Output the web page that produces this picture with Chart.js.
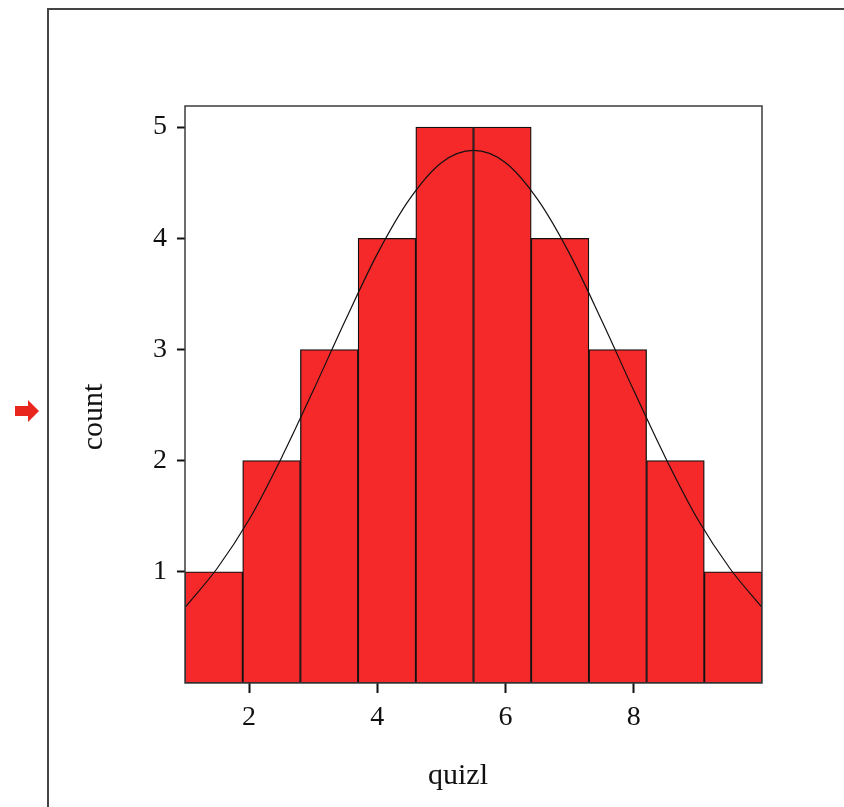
<!DOCTYPE html>
<html>
<head>
<meta charset="utf-8">
<script src="https://cdn.jsdelivr.net/npm/chart.js@4"></script>
<style>
  html, body { margin: 0; padding: 0; background: #ffffff; }
  #wrap { width: 844px; height: 807px; }
</style>
</head>
<body>
<div id="wrap"><canvas id="c" width="844" height="807"></canvas></div>
<script>
// ---- data ----
const binCenters = [1.45, 2.35, 3.25, 4.15, 5.05, 5.95, 6.85, 7.75, 8.65, 9.55];
const counts     = [1, 2, 3, 4, 5, 5, 4, 3, 2, 1];
const curveX = [1, 1.5, 2, 2.5, 3, 3.5, 4, 4.5, 5, 5.5, 6, 6.5, 7, 7.5, 8, 8.5, 9, 9.5, 10];
const curveY = [0.68, 1.03, 1.47, 2.02, 2.63, 3.26, 3.86, 4.35, 4.68, 4.79, 4.68, 4.35, 3.86, 3.26, 2.63, 2.02, 1.47, 1.03, 0.68];
const xTickValues = [2, 4, 6, 8];
const yTickValues = [1, 2, 3, 4, 5];
const xTitle = 'quizl';
const yTitle = 'count';

const SERIF = "'Liberation Serif', 'DejaVu Serif', serif";

const decorations = {
  id: 'decorations',
  beforeDraw(chart) {
    const ctx = chart.ctx;
    ctx.save();
    // outer frame (left and top edges visible)
    ctx.strokeStyle = '#444444';
    ctx.lineWidth = 2;
    ctx.beginPath();
    ctx.moveTo(48, 807);
    ctx.lineTo(48, 9);
    ctx.lineTo(844, 9);
    ctx.stroke();
    // red marker arrow on the left
    ctx.fillStyle = '#e8261e';
    ctx.beginPath();
    ctx.moveTo(15, 406);
    ctx.lineTo(28, 406);
    ctx.lineTo(28, 400);
    ctx.lineTo(39, 411);
    ctx.lineTo(28, 422);
    ctx.lineTo(28, 416);
    ctx.lineTo(15, 416);
    ctx.closePath();
    ctx.fill();
    ctx.restore();
  },
  afterDatasetsDraw(chart) {
    const ctx = chart.ctx;
    const a = chart.chartArea;
    ctx.save();
    ctx.strokeStyle = '#3c3c3c';
    ctx.lineWidth = 1.5;
    ctx.strokeRect(a.left, a.top, a.right - a.left, a.bottom - a.top);
    // axis titles
    ctx.fillStyle = '#111111';
    ctx.font = '30px ' + SERIF;
    ctx.textAlign = 'center';
    ctx.textBaseline = 'middle';
    ctx.fillText(xTitle, a.left + 273, 776);
    ctx.translate(94, a.top + 311);
    ctx.rotate(-Math.PI / 2);
    ctx.fillText(yTitle, 0, 0);
    ctx.restore();
  }
};

new Chart(document.getElementById('c'), {
  data: {
    datasets: [
      {
        type: 'line',
        data: curveX.map((x, i) => ({ x: x, y: curveY[i] })),
        borderColor: '#111111',
        borderWidth: 1.2,
        pointRadius: 0,
        cubicInterpolationMode: 'monotone',
        fill: false,
        order: 0
      },
      {
        type: 'bar',
        data: binCenters.map((x, i) => ({ x: x, y: counts[i] })),
        backgroundColor: '#f6292a',
        borderColor: '#111111',
        borderWidth: 1.3,
        borderSkipped: false,
        barPercentage: 1,
        categoryPercentage: 1,
        order: 1
      }
    ]
  },
  options: {
    responsive: false,
    animation: false,
    layout: { padding: { top: 106, right: 82, left: 0, bottom: 0 } },
    plugins: { legend: { display: false }, tooltip: { enabled: false } },
    scales: {
      x: {
        type: 'linear',
        min: 1,
        max: 10,
        offset: false,
        afterFit(s) { s.height = 124; },
        afterBuildTicks(s) { s.ticks = xTickValues.map(v => ({ value: v })); },
        grid: { display: true, offset: false, drawOnChartArea: false, drawTicks: true, tickLength: 10, tickColor: '#111111', tickWidth: 2 },
        border: { display: false },
        ticks: { padding: 8, color: '#111111', font: { family: SERIF, size: 28 }, maxRotation: 0 }
      },
      y: {
        type: 'linear',
        min: 0,
        max: 5.19,
        afterFit(s) { s.width = 185; },
        afterBuildTicks(s) { s.ticks = yTickValues.map(v => ({ value: v })); },
        grid: { display: true, drawOnChartArea: false, drawTicks: true, tickLength: 8, tickColor: '#111111', tickWidth: 2 },
        border: { display: false },
        ticks: { padding: 10, color: '#111111', font: { family: SERIF, size: 28 } }
      }
    }
  },
  plugins: [decorations]
});
</script>
</body>
</html>
